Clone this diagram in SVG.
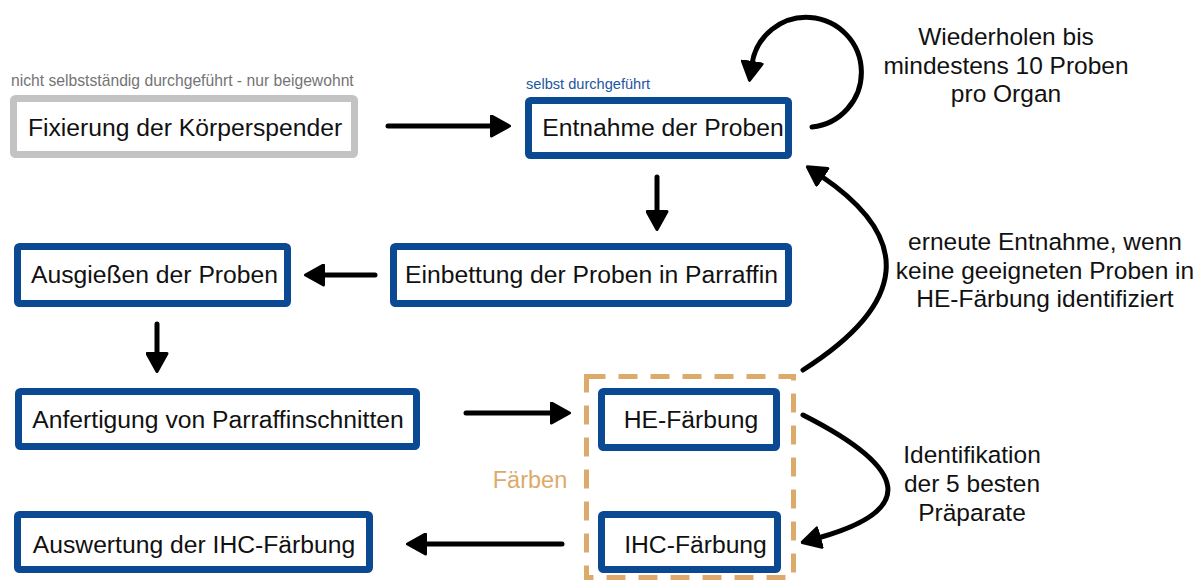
<svg xmlns="http://www.w3.org/2000/svg" width="1201" height="583" viewBox="0 0 1201 583">
  <defs>
    <style>
      .box { fill: #ffffff; stroke: #0b4a92; stroke-width: 7; }
      .box-grey { fill: #ffffff; stroke: #c3c3c3; stroke-width: 7; }
      .label { font-family: "Liberation Sans", Arial, sans-serif; font-size: 24.7px; fill: #111111; text-anchor: middle; }
      .note { font-family: "Liberation Sans", Arial, sans-serif; font-size: 24.5px; fill: #111111; text-anchor: middle; }
      .tag-grey { font-family: "Liberation Sans", Arial, sans-serif; font-size: 15.7px; fill: #747474; }
      .tag-blue { font-family: "Liberation Sans", Arial, sans-serif; font-size: 14.6px; fill: #1d56a0; }
      .group-label { font-family: "Liberation Sans", Arial, sans-serif; font-size: 23.5px; fill: #dcab6c; text-anchor: middle; }
      .conn { fill: none; stroke: #000000; stroke-width: 5; stroke-linecap: round; marker-end: url(#ah); }
      .frame { fill: none; stroke: #dcab6c; stroke-width: 5; stroke-dasharray: 19 13; }
    </style>
    <marker id="ah" viewBox="0 0 21 23" refX="3" refY="11.5" markerWidth="21" markerHeight="23" orient="auto" markerUnits="userSpaceOnUse">
      <path d="M1.5,1.5 L19.5,11.5 L1.5,21.5 Z" fill="#000000" stroke="#000000" stroke-width="3" stroke-linejoin="round"/>
    </marker>
  </defs>

  <rect width="1201" height="583" fill="#ffffff"/>

  <!-- staining group frame -->
  <g id="group-faerben">
    <rect class="frame" x="586.5" y="376.5" width="207" height="201"/>
    <text class="group-label" x="530" y="488">Färben</text>
  </g>

  <!-- process steps -->
  <g id="node-fixierung">
    <text class="tag-grey" x="11" y="86">nicht selbstständig durchgeführt - nur beigewohnt</text>
    <rect class="box-grey" x="13.5" y="98.5" width="341" height="56" rx="2"/>
    <text class="label" x="185" y="136">Fixierung der Körperspender</text>
  </g>

  <g id="node-entnahme">
    <text class="tag-blue" x="526" y="89">selbst durchgeführt</text>
    <rect class="box" x="528.5" y="100.5" width="260" height="55" rx="2"/>
    <text class="label" x="663" y="136">Entnahme der Proben</text>
  </g>

  <g id="node-einbettung">
    <rect class="box" x="393.5" y="246.5" width="395" height="57" rx="2"/>
    <text class="label" x="591.5" y="283">Einbettung der Proben in Parraffin</text>
  </g>

  <g id="node-ausgiessen">
    <rect class="box" x="17.5" y="246.5" width="270" height="57" rx="2"/>
    <text class="label" x="154.5" y="283">Ausgießen der Proben</text>
  </g>

  <g id="node-anfertigung">
    <rect class="box" x="18.5" y="391.5" width="398" height="55" rx="2"/>
    <text class="label" x="218" y="428">Anfertigung von Parraffinschnitten</text>
  </g>

  <g id="node-he">
    <rect class="box" x="601.5" y="391.5" width="175" height="56" rx="2"/>
    <text class="label" x="691" y="428">HE-Färbung</text>
  </g>

  <g id="node-ihc">
    <rect class="box" x="601.5" y="514.5" width="176" height="55" rx="2"/>
    <text class="label" x="695.5" y="553">IHC-Färbung</text>
  </g>

  <g id="node-auswertung">
    <rect class="box" x="17.5" y="514.5" width="352" height="55" rx="2"/>
    <text class="label" x="194" y="553">Auswertung der IHC-Färbung</text>
  </g>

  <!-- connectors -->
  <g id="connectors">
    <path class="conn" d="M388,126 L493,126"/>
    <path class="conn" d="M657,177 L657,213"/>
    <path class="conn" d="M375,275 L322,275"/>
    <path class="conn" d="M157,324 L157,355"/>
    <path class="conn" d="M466,413 L553,413"/>
    <path class="conn" d="M562,544 L424,544"/>
    <path class="conn" d="M812,127 A55,55 0 1 0 752,64"/>
    <path class="conn" d="M803,370 Q960,270 821,176"/>
    <path class="conn" d="M803,415 Q965,497 818,538"/>
  </g>

  <!-- annotations -->
  <g id="annotations">
    <text class="note" x="1006" y="45">Wiederholen bis</text>
    <text class="note" x="1006" y="74">mindestens 10 Proben</text>
    <text class="note" x="1006" y="102">pro Organ</text>

    <text class="note" x="1045" y="250">erneute Entnahme, wenn</text>
    <text class="note" x="1045" y="279">keine geeigneten Proben in</text>
    <text class="note" x="1045" y="307">HE-Färbung identifiziert</text>

    <text class="note" x="972" y="463">Identifikation</text>
    <text class="note" x="972" y="492">der 5 besten</text>
    <text class="note" x="972" y="521">Präparate</text>
  </g>
</svg>
